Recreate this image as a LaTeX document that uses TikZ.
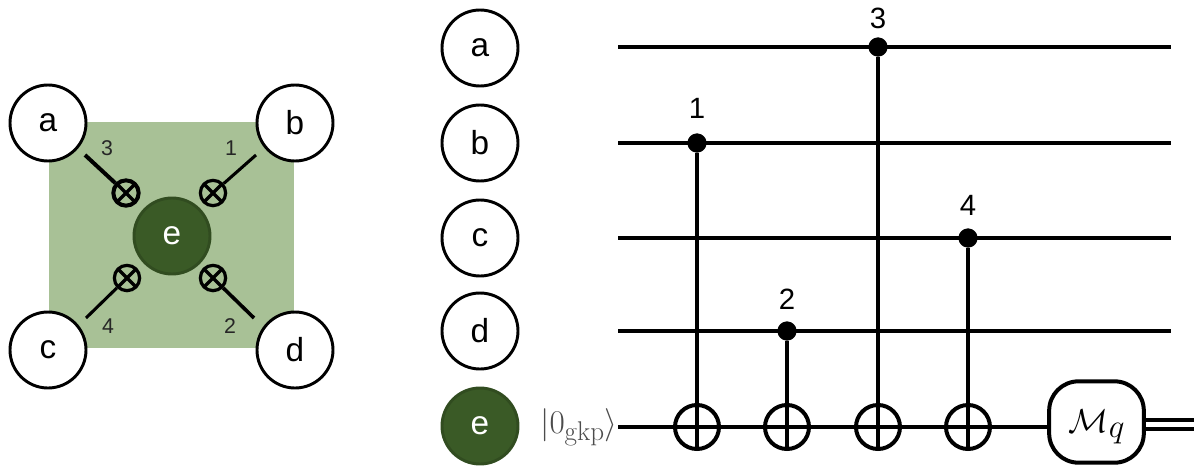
\documentclass[tikz,border=0pt]{standalone}
\usepackage{amsmath,amssymb}
\usepackage{xcolor}
\usepackage{fontspec}
\usepackage{tikz}
\newfontfamily\labelfont{Liberation Sans}
\definecolor{patchgreen}{HTML}{A8C196}
\definecolor{ancillagreen}{HTML}{3A5A26}
\begin{document}
\begin{tikzpicture}[x=0.75pt,y=-0.75pt,
  qubit/.style={draw,circle,line width=2.2pt,minimum size=57pt,inner sep=0pt,fill=white,font=\labelfont\fontsize{25}{28}\selectfont},
  ancilla/.style={qubit,fill=ancillagreen,draw=ancillagreen!85!black,text=white},
  wire/.style={line width=3pt},
  ctrl/.style={draw,circle,fill=black,minimum size=14pt,inner sep=0pt},
  num/.style={font=\labelfont\fontsize{22}{25}\selectfont},
  smallnum/.style={font=\labelfont\fontsize{16}{19}\selectfont,text=black!85},
  xorgate/.style={draw,circle,line width=3pt,minimum size=33pt,inner sep=0pt,fill=white,
    path picture={\draw[line width=3pt] (path picture bounding box.north)--(path picture bounding box.south)
      (path picture bounding box.west)--(path picture bounding box.east);}},
  cnot/.style={draw,circle,line width=2.4pt,minimum size=19pt,inner sep=0pt,
    path picture={\draw[line width=2.4pt] (path picture bounding box.north west)--(path picture bounding box.south east)
      (path picture bounding box.north east)--(path picture bounding box.south west);}},
  meter/.style={draw,rounded corners=22pt,line width=3pt,minimum width=71pt,minimum height=61pt,inner sep=0pt,fill=white}]
\useasboundingbox (0,0) rectangle (1197,465);
% left: the stabilizer patch
\node[fill=patchgreen,minimum width=184pt,minimum height=169.5pt,inner sep=0pt] (patch) at (171.5,235) {};
\node[qubit] (a) at (48,123) {a};
\node[qubit] (b) at (295,123) {b};
\node[qubit] (c) at (48,350) {c};
\node[qubit] (d) at (295,350) {d};
\node[ancilla] (e) at (172,236) {e};
\node[cnot,line width=3pt] (xa) at (126,193) {};
\node[cnot] (xb) at (213,193) {};
\node[cnot] (xc) at (127,278) {};
\node[cnot] (xd) at (213,278) {};
\coordinate (pa) at (85,155);
\coordinate (pb) at (256,155);
\coordinate (pc) at (86,318);
\coordinate (pd) at (254,318);
\draw[line width=3pt] (pa)--(xa);
\draw[line width=2.3pt] (pb)--(xb);
\draw[line width=2.3pt] (pc)--(xc);
\draw[line width=2.7pt] (pd)--(xd);
\node[smallnum] (n3) at (107,148) {3};
\node[smallnum] (n1) at (231,148) {1};
\node[smallnum] (n4) at (108,326) {4};
\node[smallnum] (n2) at (230,326) {2};
% right: the circuit
\node[qubit] (qa) at (480,48) {a};
\node[qubit] (qb) at (480,143) {b};
\node[qubit] (qc) at (480,238) {c};
\node[qubit] (qd) at (480,331) {d};
\node[ancilla] (qe) at (480,426) {e};
\node[font=\fontsize{29}{32}\selectfont,text=black!70] (ket) at (579,427) {$|0_{\mathrm{gkp}}\rangle$};
\foreach \name/\y in {a/47,b/143,c/238,d/331,e/427} {
  \coordinate (in\name) at (618,\y);
  \coordinate (out\name) at (1171,\y);
}
\node[meter] (meas) at (1096.5,422) {};
\node[font=\fontsize{34}{38}\selectfont,inner sep=0pt] (mq) at (1097,427) {$\mathcal{M}_q$};
\coordinate (enda) at (1194,420);
\coordinate (endb) at (1194,429);
\draw[line width=3.6pt] (ina)--(outa);
\draw[wire] (inb)--(outb);
\draw[wire] (inc)--(outc);
\draw[wire] (ind)--(outd);
\draw[wire] (ine)--(meas.west |- ine);
\draw[wire] (meas.east |- enda)--(enda);
\draw[wire] (meas.east |- endb)--(endb);
\node[ctrl] (c1) at (697,143) {};
\node[ctrl] (c2) at (787,331) {};
\node[ctrl] (c3) at (878,47) {};
\node[ctrl] (c4) at (968,238) {};
\node[xorgate] (t1) at (697,427) {};
\node[xorgate] (t2) at (787,427) {};
\node[xorgate] (t3) at (878,427) {};
\node[xorgate] (t4) at (968,427) {};
\draw[wire] (c1)--(t1);
\draw[wire] (c2)--(t2);
\draw[wire] (c3)--(t3);
\draw[wire] (c4)--(t4);
\draw[wire] (t1.west)--(t1.east) (t2.west)--(t2.east) (t3.west)--(t3.east) (t4.west)--(t4.east);
\node[num] (l1) at (697,108) {1};
\node[num] (l2) at (787,299) {2};
\node[num] (l3) at (878,18) {3};
\node[num] (l4) at (968,205) {4};
\end{tikzpicture}
\end{document}
